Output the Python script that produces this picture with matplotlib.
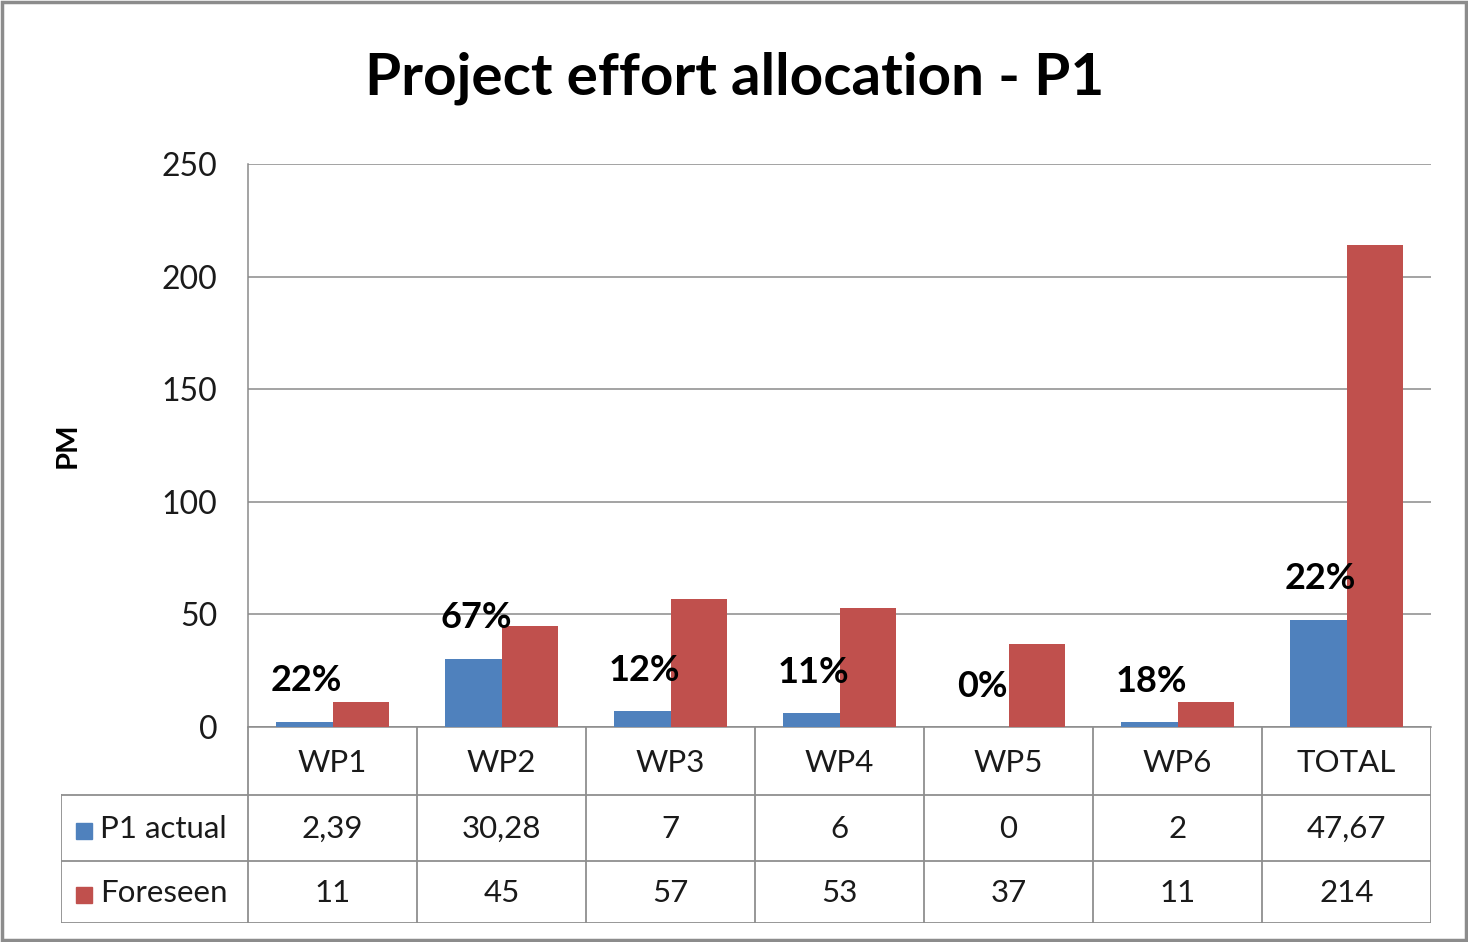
import matplotlib
matplotlib.use("Agg")
import matplotlib.pyplot as plt
from matplotlib.patches import Rectangle
from matplotlib.lines import Line2D

plt.rcParams['font.family'] = ['Lato', 'DejaVu Sans']

categories = ["WP1", "WP2", "WP3", "WP4", "WP5", "WP6", "TOTAL"]
actual = [2.39, 30.28, 7, 6, 0, 2, 47.67]
foreseen = [11, 45, 57, 53, 37, 11, 214]
actual_text = ["2,39", "30,28", "7", "6", "0", "2", "47,67"]
foreseen_text = ["11", "45", "57", "53", "37", "11", "214"]
pct_labels = ["22%", "67%", "12%", "11%", "0%", "18%", "22%"]
series_names = ["P1 actual", "Foreseen"]
yticks = [0, 50, 100, 150, 200, 250]

BLUE = "#4F81BD"
RED = "#C0504D"
GRID = "#8a8a8a"
TXT = "#1a1a1a"

W, H = 1468, 942
fig = plt.figure(figsize=(W / 100, H / 100), dpi=100)

def fx(px):
    return px / W

def fy(py):
    return 1 - py / H

# outer border
fig.patches.append(Rectangle((fx(2), fy(940)), fx(1464), 938 / H, transform=fig.transFigure,
                             fill=False, edgecolor="#8c8c8c", linewidth=2.5))

# main axes
ax = fig.add_axes([fx(248), fy(727), fx(1431 - 248), (727 - 164) / H])
n = len(categories)
x = list(range(n))
bw = 0.337
ax.bar([i - bw / 2 for i in x], actual, width=bw, color=BLUE, zorder=3)
ax.bar([i + bw / 2 for i in x], foreseen, width=bw, color=RED, zorder=3)
ax.set_xlim(-0.5, n - 0.5)
ax.set_ylim(0, 250)
ax.set_yticks(yticks)
ax.set_yticklabels([str(t) for t in yticks], fontsize=23, color=TXT)
ax.tick_params(axis='y', length=0, pad=22)
ax.set_xticks([])
ax.yaxis.grid(True, color=GRID, linewidth=1.1, zorder=0)
for s in ["top", "right"]:
    ax.spines[s].set_visible(False)
ax.spines["left"].set_color(GRID)
ax.spines["bottom"].set_color(GRID)
ax.spines["left"].set_linewidth(1.1)
ax.spines["bottom"].set_linewidth(1.1)

for i in x:
    ax.annotate(pct_labels[i], (i - bw / 2, actual[i]), xytext=(2, 29.5), textcoords="offset points",
                ha="center", va="center", fontsize=26, fontweight="bold", color="black", zorder=5)

# table axes
lab_w = 187 / 169
tab = fig.add_axes([fx(61), fy(923), fx(1431 - 61), (923 - 727) / H])
tab.set_xlim(-0.5 - lab_w, n - 0.5)
row_edges = [0, 68, 134, 196]
tab.set_ylim(196, 0)
tab.axis("off")
lc = "#8f8f8f"
lw = 1.3
# horizontal lines
for k in (1, 2, 3):
    tab.add_line(Line2D([-0.5 - lab_w, n - 0.5], [row_edges[k]] * 2, color=lc, lw=lw))
# vertical lines
for k in range(n + 1):
    tab.add_line(Line2D([k - 0.5, k - 0.5], [0, row_edges[3]], color=lc, lw=lw))
tab.add_line(Line2D([-0.5 - lab_w] * 2, [row_edges[1], row_edges[3]], color=lc, lw=lw))

fs_tab = 22.5
for i, c in enumerate(categories):
    tab.text(i, (row_edges[0] + row_edges[1]) / 2 + 2, c, ha="center", va="center", fontsize=fs_tab, color=TXT)
    tab.text(i, (row_edges[1] + row_edges[2]) / 2 + 1, actual_text[i], ha="center", va="center", fontsize=fs_tab, color=TXT)
    tab.text(i, (row_edges[2] + row_edges[3]) / 2 + 1, foreseen_text[i], ha="center", va="center", fontsize=fs_tab, color=TXT)

for r, (name, col) in enumerate(zip(series_names, [BLUE, RED])):
    yc = (row_edges[r + 1] + row_edges[r + 2]) / 2 + 3
    tab.plot([-0.5 - lab_w + 0.135], [yc], marker="s", markersize=12, color=col, linestyle="none")
    tab.text(-0.5 - lab_w + 0.23, yc - 2, name, ha="left", va="center", fontsize=fs_tab, color=TXT)

fig.text(0.5005, fy(78), "Project effort allocation - P1", ha="center", va="center",
         fontsize=42, fontweight="bold", color="black")
fig.text(fx(68), fy(445), "PM", ha="center", va="center", rotation=90,
         fontsize=21, fontweight="bold", color="black")

fig.savefig("out.png", dpi=100)
